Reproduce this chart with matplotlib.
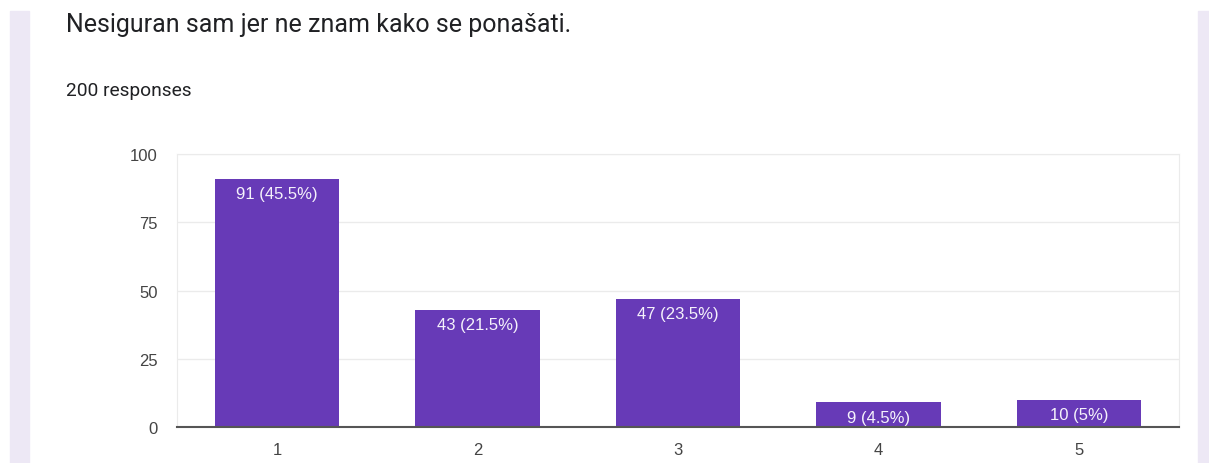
import matplotlib.pyplot as plt
from matplotlib.patches import Rectangle

title = 'Nesiguran sam jer ne znam kako se ponašati.'
subtitle = '200 responses'
categories = ['1', '2', '3', '4', '5']
counts = [91, 43, 47, 9, 10]
percents = ['45.5%', '21.5%', '23.5%', '4.5%', '5%']

W, H = 1209, 464
fig = plt.figure(figsize=(W / 100, H / 100), dpi=100)

# page background strips (lavender) on both sides of the white card
fig.patches.append(Rectangle((10 / W, 0), 19 / W, 1 - 12 / H, transform=fig.transFigure,
                             color='#ede8f5', zorder=0))
fig.patches.append(Rectangle((1198 / W, 0), 11 / W, 1 - 12 / H, transform=fig.transFigure,
                             color='#ede8f5', zorder=0))

fig.text(66 / W, 1 - 25 / H, title, fontsize=18, family='Roboto', color='#202124', va='center')
fig.text(66 / W, 1 - 91 / H, subtitle, fontsize=13.8, family='Roboto', color='#202124', va='center')

ax = fig.add_axes([177 / W, 1 - 428 / H, (1179 - 177) / W, (428 - 155) / H])
x = range(len(categories))
bars = ax.bar(x, counts, width=0.62, color='#673ab7', zorder=3)
for b, c, p in zip(bars, counts, percents):
    ax.annotate(f'{c} ({p})', (b.get_x() + b.get_width() / 2, c), xytext=(0, -11),
                textcoords='offset points', ha='center', va='center', color='#f5f2fb',
                fontsize=12, family='Liberation Sans', zorder=4)

ax.set_xlim(-0.5, 4.5)
ax.set_ylim(0, 100)
ax.set_yticks([0, 25, 50, 75, 100])
ax.set_xticks(list(x))
ax.set_xticklabels(categories)
ax.grid(axis='y', color='#ebebeb', linewidth=1, zorder=0)
ax.tick_params(length=0, labelsize=12, labelcolor='#444444')
ax.tick_params(axis='y', pad=14)
ax.tick_params(axis='x', pad=11)
for lab in ax.get_xticklabels() + ax.get_yticklabels():
    lab.set_family('Liberation Sans')
for s in ['left', 'right', 'top']:
    ax.spines[s].set_color('#ebebeb')
ax.spines['bottom'].set_color('#555555')
ax.spines['bottom'].set_linewidth(1.5)
ax.spines['bottom'].set_zorder(5)

fig.savefig('out.png', dpi=100)
